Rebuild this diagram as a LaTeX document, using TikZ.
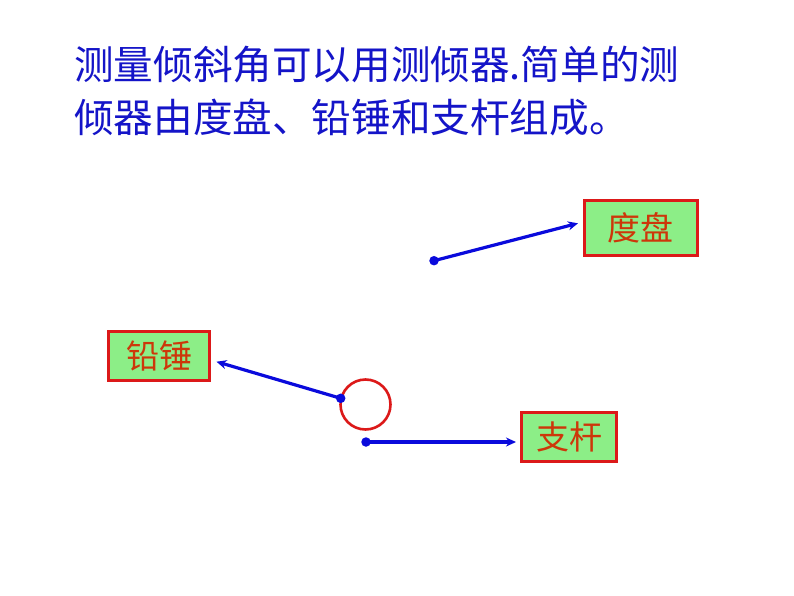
\documentclass[tikz,border=0pt]{standalone}
\usepackage{fontspec}
\newfontfamily\cjk{Noto Sans CJK SC}
\usetikzlibrary{arrows.meta}
\definecolor{titleblue}{RGB}{20,20,200}
\definecolor{arrowblue}{RGB}{10,10,220}
\definecolor{boxgreen}{RGB}{140,238,135}
\definecolor{boxred}{RGB}{220,25,25}
\definecolor{labelred}{RGB}{205,55,10}
\tikzset{
  titletext/.style={anchor=west, inner sep=0pt, text=titleblue, font=\cjk\fontsize{39.6}{39.6}\selectfont},
  partbox/.style={draw=boxred, line width=3pt, fill=boxgreen, text=labelred, inner sep=0pt, font=\cjk\fontsize{33}{33}\selectfont, minimum height=#1},
  pointer/.style={draw=arrowblue, line width=3.2pt, -{Stealth[length=10pt,width=9pt]}},
  dot/.style={circle, fill=arrowblue, inner sep=0pt, minimum size=9.5pt}
}
\begin{document}
\begin{tikzpicture}[x=1pt,y=-1pt]
\useasboundingbox[fill=white] (0,0) rectangle (794,596);
\node[titletext] (title1) at (74,65) {测量倾斜角可以用测倾器.简单的测};
\node[titletext] (title2) at (74,117) {倾器由度盘、铅锤和支杆组成。};
% boxes
\node[partbox=55pt, minimum width=113pt] (dupan) at (640.8,227.5) {度盘};
\node[partbox=49pt, minimum width=101pt] (qianchui) at (159.2,356.3) {铅锤};
\node[partbox=49pt, minimum width=95pt] (zhigan) at (569.2,437.2) {支杆};
% circle
\node[circle, draw=boxred, line width=2.6pt, minimum size=50pt, inner sep=0pt] (ring) at (365.5,404.5) {};
% dots
\node[dot] (d1) at (434,260.7) {};
\node[dot] (d2) at (340.7,398.3) {};
\node[dot] (d3) at (366,442) {};
% arrow tips
\coordinate (t1) at (578,223.3);
\coordinate (t2) at (216.5,361.7);
\coordinate (t3) at (516,442);
\draw[pointer] (d1.center) -- (t1);
\draw[pointer] (d2.center) -- (t2);
\draw[pointer] (d3.center) -- (t3);
\end{tikzpicture}
\end{document}
